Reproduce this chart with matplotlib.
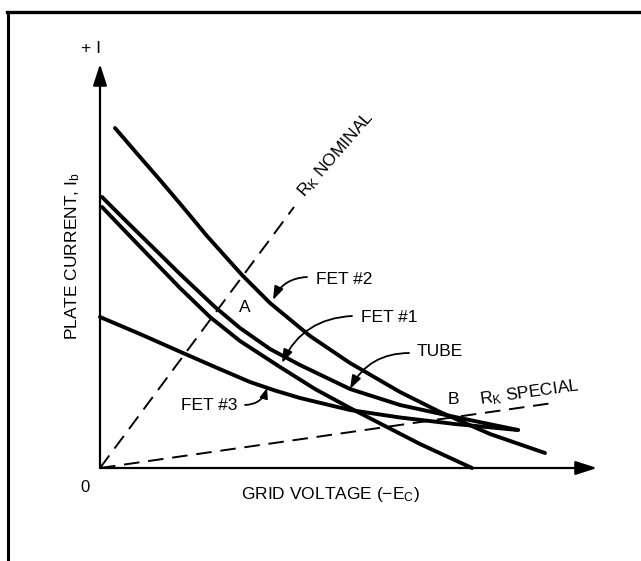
import matplotlib.pyplot as plt
from matplotlib.lines import Line2D

plt.rcParams['font.family'] = ['Liberation Sans', 'DejaVu Sans']
plt.rcParams['mathtext.fontset'] = 'custom'
plt.rcParams['mathtext.rm'] = 'Liberation Sans'
plt.rcParams['mathtext.default'] = 'regular'

# Curves (grid voltage, plate current), arbitrary units
fet2_x = [0.30, 0.8, 1.2, 1.7, 2.14, 2.84, 3.4, 4.2, 5.0, 6.0, 6.8, 7.8, 8.9]
fet2_y = [6.80, 6.22, 5.76, 5.17, 4.64, 3.86, 3.30, 2.64, 2.10, 1.52, 1.12, 0.68, 0.30]

tube_x = [0.04, 0.5, 1.0, 1.6, 2.3, 2.8, 3.4, 4.0, 5.0, 6.0, 7.1, 8.36]
tube_y = [5.42, 4.96, 4.47, 3.88, 3.22, 2.80, 2.38, 2.06, 1.58, 1.26, 1.02, 0.76]

fet1_x = [0.04, 0.5, 1.0, 1.6, 2.2, 2.8, 3.6, 4.3, 5.0, 5.7, 6.4, 7.44]
fet1_y = [5.22, 4.74, 4.22, 3.60, 3.02, 2.54, 2.02, 1.58, 1.20, 0.84, 0.48, 0.0]

fet3_x = [0.0, 0.8, 1.66, 2.3, 3.0, 3.5, 4.0, 5.0, 6.0, 7.1, 8.36]
fet3_y = [3.02, 2.68, 2.30, 2.02, 1.72, 1.55, 1.40, 1.16, 1.01, 0.88, 0.76]

# Cathode resistor load lines
rk_nominal_x = [0.0, 3.88]
rk_nominal_y = [0.0, 5.22]
rk_special_x = [0.0, 9.06]
rk_special_y = [0.0, 1.30]

fig = plt.figure(figsize=(6.41, 5.61), dpi=100)
ax = fig.add_axes([100 / 641, 93 / 561, 500 / 641, 410 / 561])
ax.set_xlim(0, 10)
ax.set_ylim(0, 8.2)
ax.axis('off')

# Page frame (top and left edges)
fig.add_artist(Line2D([7 / 641, 1.0], [1 - 12 / 561, 1 - 12 / 561], color='black', lw=2.4))
fig.add_artist(Line2D([8 / 641, 8 / 641], [0.0, 1 - 12 / 561], color='black', lw=2.2))

# Axes with arrow heads
axis_arrow = dict(arrowstyle='-|>,head_length=1.3,head_width=0.42', mutation_scale=10,
                  lw=1.6, color='black', shrinkA=0, shrinkB=0)
ax.annotate('', xy=(9.94, 0), xytext=(0, 0), arrowprops=axis_arrow, annotation_clip=False)
ax.annotate('', xy=(0, 8.08), xytext=(0, 0), arrowprops=axis_arrow, annotation_clip=False)

# Load lines
ax.plot(rk_nominal_x, rk_nominal_y, color='black', lw=1.4, ls=(0, (8, 4.5)), clip_on=False)
ax.plot(rk_special_x, rk_special_y, color='black', lw=1.4, ls=(0, (8, 4.5)), clip_on=False)

# Characteristic curves
for xs, ys in [(fet2_x, fet2_y), (tube_x, tube_y), (fet1_x, fet1_y), (fet3_x, fet3_y)]:
    ax.plot(xs, ys, color='black', lw=2.8, solid_capstyle='round',
            solid_joinstyle='round', clip_on=False)

# Curve labels with curved pointers
label_arrow = dict(arrowstyle='-|>,head_length=0.8,head_width=0.28', mutation_scale=10,
                   lw=1.3, color='black', shrinkA=0, shrinkB=0,
                   connectionstyle='arc3,rad=0.3')
short_arrow = dict(label_arrow, arrowstyle='-|>,head_length=0.6,head_width=0.24',
                   connectionstyle='arc3,rad=0.35')
fs = 12.5
ax.text(4.88, 3.78, 'FET #2', fontsize=fs, ha='center', va='center')
ax.annotate('', xy=(3.46, 3.36), xytext=(4.14, 3.82), arrowprops=label_arrow)
ax.text(5.78, 3.02, 'FET #1', fontsize=fs, ha='center', va='center')
ax.annotate('', xy=(3.64, 2.10), xytext=(5.04, 3.04), arrowprops=label_arrow)
ax.text(6.80, 2.32, 'TUBE', fontsize=fs, ha='center', va='center')
ax.annotate('', xy=(5.0, 1.58), xytext=(6.18, 2.30), arrowprops=label_arrow)
ax.text(2.18, 1.26, 'FET #3', fontsize=fs, ha='center', va='center')
ax.annotate('', xy=(3.34, 1.60), xytext=(2.90, 1.26), arrowprops=short_arrow)

ax.text(2.90, 3.20, 'A', fontsize=fs, ha='center', va='center')
ax.text(7.06, 1.38, 'B', fontsize=fs, ha='center', va='center')
ax.text(4.72, 6.26, 'R$_K$ NOMINAL', fontsize=fs, ha='center', va='center',
        rotation=49, rotation_mode='anchor')
ax.text(8.60, 1.50, 'R$_K$ SPECIAL', fontsize=fs, ha='center', va='center',
        rotation=8, rotation_mode='anchor')

# Axis texts
ax.text(-0.18, 8.38, '+ I', fontsize=12.5, ha='center', va='center', clip_on=False)
ax.text(-0.30, -0.40, '0', fontsize=12, ha='center', va='center')
ax.text(4.60, -0.54, 'GRID VOLTAGE (\u2212E$_C$)', fontsize=fs, ha='center', va='center')
ax.text(-0.54, 4.24, 'PLATE CURRENT, I$_b$', fontsize=fs, ha='center', va='center',
        rotation=90)

fig.savefig('out.png', dpi=100)
